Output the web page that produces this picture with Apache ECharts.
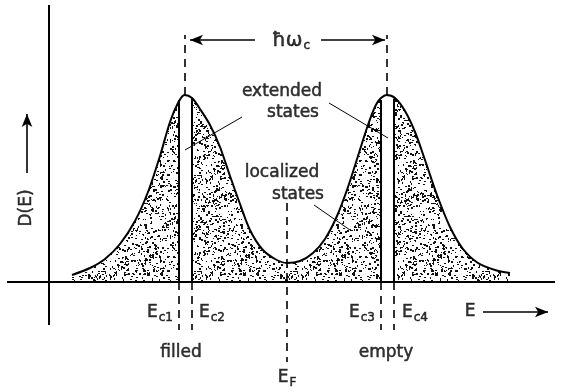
<!DOCTYPE html>
<html>
<head>
<meta charset="utf-8">
<script src="https://cdn.jsdelivr.net/npm/echarts@6/dist/echarts.min.js"></script>
<style>
html, body { margin: 0; padding: 0; background: #fff; }
#chart { width: 563px; height: 392px; }
</style>
</head>
<body>
<div id="chart"></div>
<script>
// D(E), arbitrary units (E: 0 at the D axis)
const energy  = [2.3, 4.1, 5.6, 7.1, 8.6, 9.9, 11.1, 12.1, 12.9, 13.55, 14.3, 15.1, 16.1, 17.1, 18.1, 19.1, 20.1,
                 21.3, 22.6, 23.8, 25.1, 26.4, 27.6, 28.8, 29.9, 30.9, 31.9, 32.8, 33.75, 34.6, 35.6, 36.6, 37.6,
                 38.8, 40.1, 41.4, 42.9, 44.6, 46.1];
const density = [0.7, 1.4, 2.3, 3.8, 6.1, 9.0, 12.6, 16.0, 17.9, 18.7, 18.4, 17.3, 15.7, 13.5, 10.6, 7.8, 5.2,
                 3.3, 2.3, 1.9, 2.1, 2.9, 4.3, 6.6, 9.5, 12.6, 15.7, 17.9, 18.7, 18.4, 17.1, 15.0, 12.2,
                 8.7, 5.5, 3.3, 1.9, 1.2, 0.9];
// mobility edges Ec1..Ec4 and D(E) there
const edgeE = [13.0, 14.3, 33.15, 34.45];
const edgeD = [18.2, 18.4, 18.2, 18.35];
const edgeNames = ['c1', 'c2', 'c3', 'c4'];
const peakE = [13.6, 33.8];
const peakD = 18.7;
const fermiE = 23.8;

const FONT = 'DejaVu Sans';

// stippled fill like the printed figure
function stipple() {
  const n = 96;
  const c = document.createElement('canvas');
  c.width = c.height = n;
  const g = c.getContext('2d');
  g.fillStyle = '#fff';
  g.fillRect(0, 0, n, n);
  g.fillStyle = '#111';
  let s = 12345;
  const rnd = () => (s = (s * 16807) % 2147483647) / 2147483647;
  for (let i = 0; i < 1000; i++) {
    const x = Math.floor(rnd() * n), y = Math.floor(rnd() * n);
    g.fillRect(x, y, rnd() < 0.5 ? 2 : 1, rnd() < 0.45 ? 2 : 1);
  }
  return c;
}

const curve = energy.map((e, i) => [e, density[i]]);
const seg = (a, b, extra) => [Object.assign({ coord: a, symbol: 'none' }, extra && extra[0]),
                              Object.assign({ coord: b, symbol: 'none' }, extra && extra[1])];
const arrowHead = { symbol: 'arrow', symbolSize: [8, 13] };

// text annotations (data coords)
const notes = [
  { value: [23.3, 19.0], text: 'extended' },
  { value: [24.4, 16.9], text: 'states' },
  { value: [23.3, 10.9], text: 'localized' },
  { value: [24.9, 8.7], text: 'states' },
  { value: [24.2, 24.1], text: '{h|ħω}{s|c}' },
  { value: [11.1, -3.1], text: '{m|E}{s|' + edgeNames[0] + '}' },
  { value: [16.3, -3.1], text: '{m|E}{s|' + edgeNames[1] + '}' },
  { value: [31.3, -3.1], text: '{m|E}{s|' + edgeNames[2] + '}' },
  { value: [36.6, -3.1], text: '{m|E}{s|' + edgeNames[3] + '}' },
  { value: [13.2, -7.1], text: 'filled' },
  { value: [33.7, -7.1], text: 'empty' },
  { value: [fermiE, -9.6], text: '{m|E}{s|F}' },
  { value: [42.1, -3.0], text: 'E' },
  { value: [-2.2, 7.4], text: 'D(E)', rotate: 90 }
];

const ink = { color: '#000', textBorderColor: '#000', textBorderWidth: 0.5 };

const chart = echarts.init(document.getElementById('chart'));
const option = {
  animation: false,
  textStyle: { fontFamily: FONT },
  grid: { left: 0, right: 0, top: 0, bottom: 0 },
  xAxis: { type: 'value', min: -4.9, max: 51.4, show: false },
  yAxis: { type: 'value', min: -11, max: 28.2, show: false },
  series: [
    {
      name: 'fill',
      type: 'line',
      data: curve,
      smooth: 0.3,
      symbol: 'none',
      lineStyle: { width: 0 },
      areaStyle: { color: { image: stipple(), repeat: 'repeat' }, opacity: 1 },
      z: 1,
      silent: true
    },
    {
      // the unshaded strips of extended states between Ec1/Ec2 and Ec3/Ec4
      name: 'gaps',
      type: 'custom',
      z: 2,
      silent: true,
      data: [[edgeE[0], edgeE[1], peakD], [edgeE[2], edgeE[3], peakD]],
      renderItem: (params, api) => {
        const a = api.coord([api.value(0), 0]);
        const b = api.coord([api.value(1), api.value(2)]);
        return {
          type: 'rect',
          shape: { x: a[0], y: b[1], width: b[0] - a[0], height: a[1] - b[1] },
          style: { fill: '#fff' }
        };
      }
    },
    {
      name: 'D(E)',
      type: 'line',
      data: curve,
      smooth: 0.3,
      symbol: 'none',
      lineStyle: { color: '#000', width: 2 },
      z: 3,
      silent: true
    },
    {
      name: 'solid',
      type: 'line',
      data: [],
      z: 4,
      markLine: {
        silent: true,
        symbol: ['none', 'none'],
        label: { show: false },
        lineStyle: { color: '#000', width: 2, type: 'solid' },
        data: [
          seg([-4.2, 0], [50.6, 0]),
          seg([0, -4.3], [0, 27.7])
        ].concat(edgeE.map((e, i) => seg([e, 0], [e, edgeD[i]])))
      }
    },
    {
      name: 'dashed',
      type: 'line',
      data: [],
      z: 4,
      markLine: {
        silent: true,
        symbol: ['none', 'none'],
        label: { show: false },
        lineStyle: { color: '#000', width: 1.6, type: [8, 6] },
        data: [
          seg([peakE[0], peakD], [peakE[0], 24.7]),
          seg([peakE[1], peakD], [peakE[1], 24.7]),
          seg([fermiE, 7.9], [fermiE, -8.0])
        ].concat(edgeE.map(e => seg([e, 0], [e, -4.8])))
      }
    },
    {
      name: 'leaders',
      type: 'line',
      data: [],
      z: 4,
      markLine: {
        silent: true,
        symbol: ['none', 'none'],
        label: { show: false },
        lineStyle: { color: '#000', width: 1, type: 'solid' },
        data: [
          seg([19.3, 16.5], [13.6, 13.2]),
          seg([28.0, 17.9], [33.9, 14.4]),
          seg([26.5, 7.7], [30.1, 5.2])
        ]
      }
    },
    {
      name: 'arrows',
      type: 'line',
      data: [],
      z: 4,
      markLine: {
        silent: true,
        symbol: ['none', 'none'],
        label: { show: false },
        lineStyle: { color: '#000', width: 1.6, type: 'solid' },
        data: [
          seg([14.1, 24.2], [20.6, 24.2], [arrowHead, null]),
          seg([27.2, 24.2], [33.6, 24.2], [null, arrowHead]),
          seg([43.4, -3.0], [49.9, -3.0], [null, arrowHead]),
          seg([-2.2, 10.9], [-2.2, 16.8], [null, arrowHead])
        ]
      }
    },
    {
      name: 'labels',
      type: 'scatter',
      symbolSize: 0,
      z: 5,
      silent: true,
      data: notes.map(n => ({ value: n.value, name: n.text, label: { rotate: n.rotate || 0 } })),
      label: Object.assign({
        show: true,
        position: 'inside',
        formatter: p => p.name,
        fontFamily: FONT,
        fontSize: 17,
        rich: {
          m: Object.assign({ fontFamily: FONT, fontSize: 17 }, ink),
          h: Object.assign({ fontFamily: FONT, fontSize: 20 }, ink),
          s: Object.assign({ fontFamily: FONT, fontSize: 12, padding: [10, 0, 0, 1] }, ink)
        }
      }, ink)
    }
  ]
};
chart.setOption(option);
</script>
</body>
</html>
